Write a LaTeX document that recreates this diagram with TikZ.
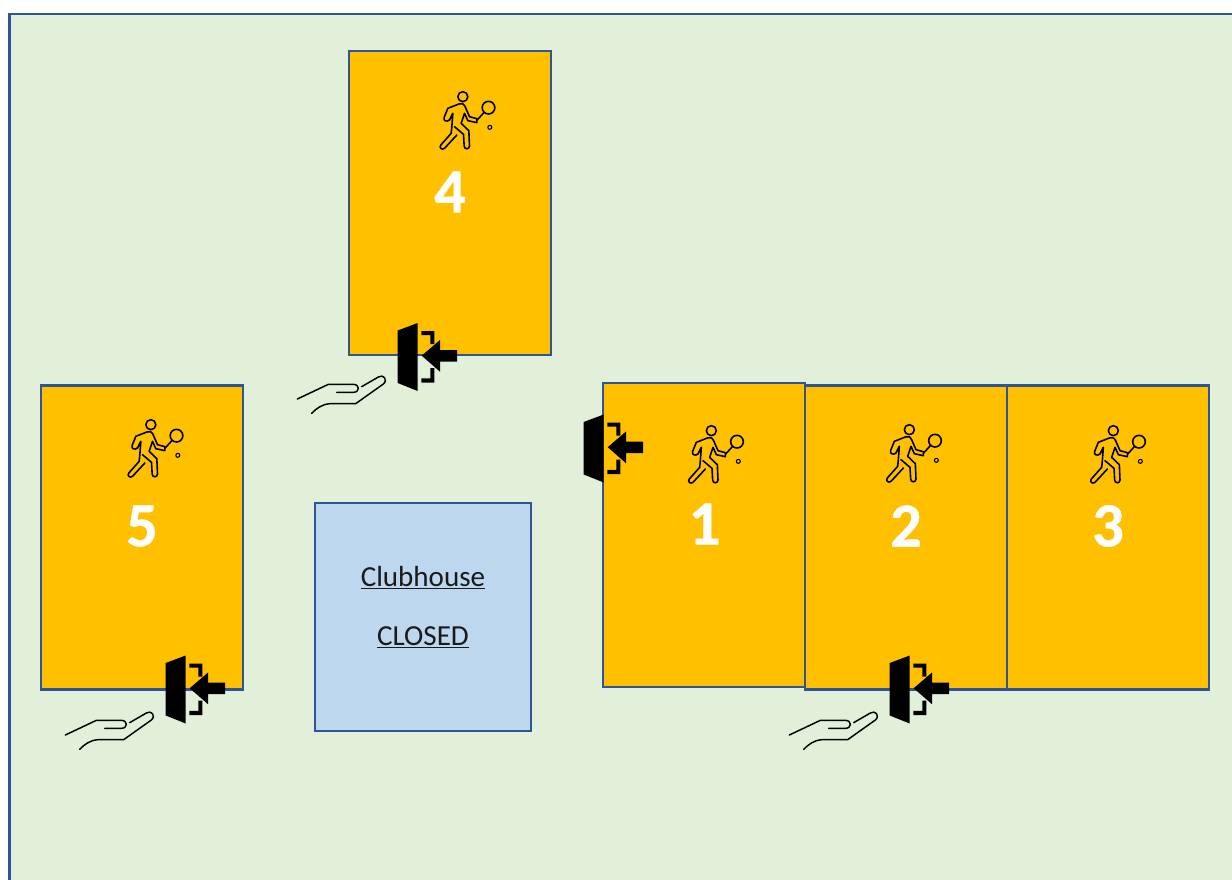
\documentclass[tikz,border=0pt]{standalone}
\usepackage{fontspec}
\setmainfont{Carlito}[BoldFeatures={FakeBold=0.7}]
\definecolor{lawn}{HTML}{E2F0D9}
\definecolor{edge}{HTML}{2F5597}
\definecolor{court}{HTML}{FFC000}
\definecolor{club}{HTML}{BDD7EE}
\definecolor{labeltext}{HTML}{1A1A1A}
\newlength{\pxu}\setlength{\pxu}{0.75pt}
\tikzset{
  x=0.75pt,y=-0.75pt,
  courtbox/.style={draw=edge,fill=court,line width=1.9pt,minimum width=202\pxu,minimum height=304\pxu,inner sep=0pt,outer sep=0pt},
  clubbox/.style={draw=edge,fill=club,line width=1.9pt,minimum width=216\pxu,minimum height=228\pxu,inner sep=0pt,outer sep=0pt,align=center},
  courtnum/.style={text=white,font=\fontsize{47}{50}\selectfont\bfseries,inner sep=0pt},
  clublabel/.style={text=labeltext,font=\fontsize{21.8}{26}\selectfont,inner sep=0pt},
  pics/player/.style={code={
    \begin{scope}[x=0.25pt,y=-0.25pt,line width=1.2pt,line join=round,line cap=round,draw=black]
      \draw (130,50) circle[radius=15];
      \draw (207,83) circle[radius=19];
      \draw (193,98) -- (173,120);
      \draw[line width=0.8pt] (211,142) circle[radius=6];
      \draw (85,85) -- (118,72) .. controls (130,69) and (133,73) .. (136,78) -- (150,110) -- (172,116) -- (172,128) -- (145,122) -- (135,100) -- (125,130) -- (148,152) -- (150,198) .. controls (150,209) and (134,209) .. (134,198) -- (132,163) -- (105,140);
      \draw (112,165) -- (75,205) .. controls (67,211) and (58,203) .. (64,195) -- (95,160) -- (97,140) -- (100,100) -- (90,120) .. controls (82,127) and (70,122) .. (74,112) -- (85,85);
    \end{scope}}},
  pics/entrydoor/.style={code={
    \fill[black] (-20,-26) -- (0,-33.5) -- (0,34.5) -- (-20,26.5) -- cycle;
    \fill[black] (3.6,-25.5) -- (16.6,-25.5) -- (16.6,-12.5) -- (12.6,-12.5) -- (12.6,-21.5) -- (3.6,-21.5) -- cycle;
    \fill[black] (3.6,26.2) -- (16.6,26.2) -- (16.6,11.5) -- (12.6,11.5) -- (12.6,21.8) -- (3.6,21.8) -- cycle;
    \fill[black] (4,-0.8) -- (22.3,-16.5) -- (22.3,-6.5) -- (39.3,-6.5) -- (39.3,5.2) -- (22.3,5.2) -- (22.3,15.2) -- cycle;
  }},
  pics/hand/.style={code={
    \begin{scope}[x=0.25pt,y=-0.25pt,line width=1.1pt,line join=round,line cap=round,draw=black]
      \draw (37,252) -- (130,208) -- (205,208) .. controls (225,208) and (225,232) .. (205,232) -- (155,232);
      \draw (230,215) -- (280,186) .. controls (295,176) and (310,195) .. (295,207) -- (212,266) -- (135,266) .. controls (110,268) and (95,280) .. (80,295);
    \end{scope}}},
}
\begin{document}
\begin{tikzpicture}
\useasboundingbox (0,0) rectangle (1232,879);
\clip (0,0) rectangle (1232,879);
\draw[draw=edge,fill=lawn,line width=2.1pt] (9.5,14) rectangle (1300,950);

\node[courtbox] (c4) at (450,203) {};
\node[courtbox] (c5) at (142,537.5) {};
\node[courtbox] (c1) at (704,535) {};
\node[courtbox] (c2) at (906,537.5) {};
\node[courtbox] (c3) at (1108,537.5) {};
\node[clubbox] (club) at (423,617) {};
\node[clublabel] (clubname) at (423,578) {\underline{Clubhouse}};
\node[clublabel] (clubstate) at (423,637) {\underline{CLOSED}};

\node[courtnum] (n4) at (450,192) {4};
\node[courtnum] (n5) at (142,526) {5};
\node[courtnum] (n1) at (704.5,524) {1};
\node[courtnum] (n2) at (906,526) {2};
\node[courtnum] (n3) at (1108,526) {3};

\pic at (419.5,80) {player};
\pic at (107.5,408) {player};
\pic at (668,414) {player};
\pic at (866,413) {player};
\pic at (1070,414) {player};

\pic at (417.7,356.5) {entrydoor};
\pic at (185.7,689) {entrydoor};
\pic at (603.7,448) {entrydoor};
\pic at (909.7,689) {entrydoor};

\pic at (285,315) {hand};
\pic at (53,651) {hand};
\pic at (777,651) {hand};
\end{tikzpicture}
\end{document}
